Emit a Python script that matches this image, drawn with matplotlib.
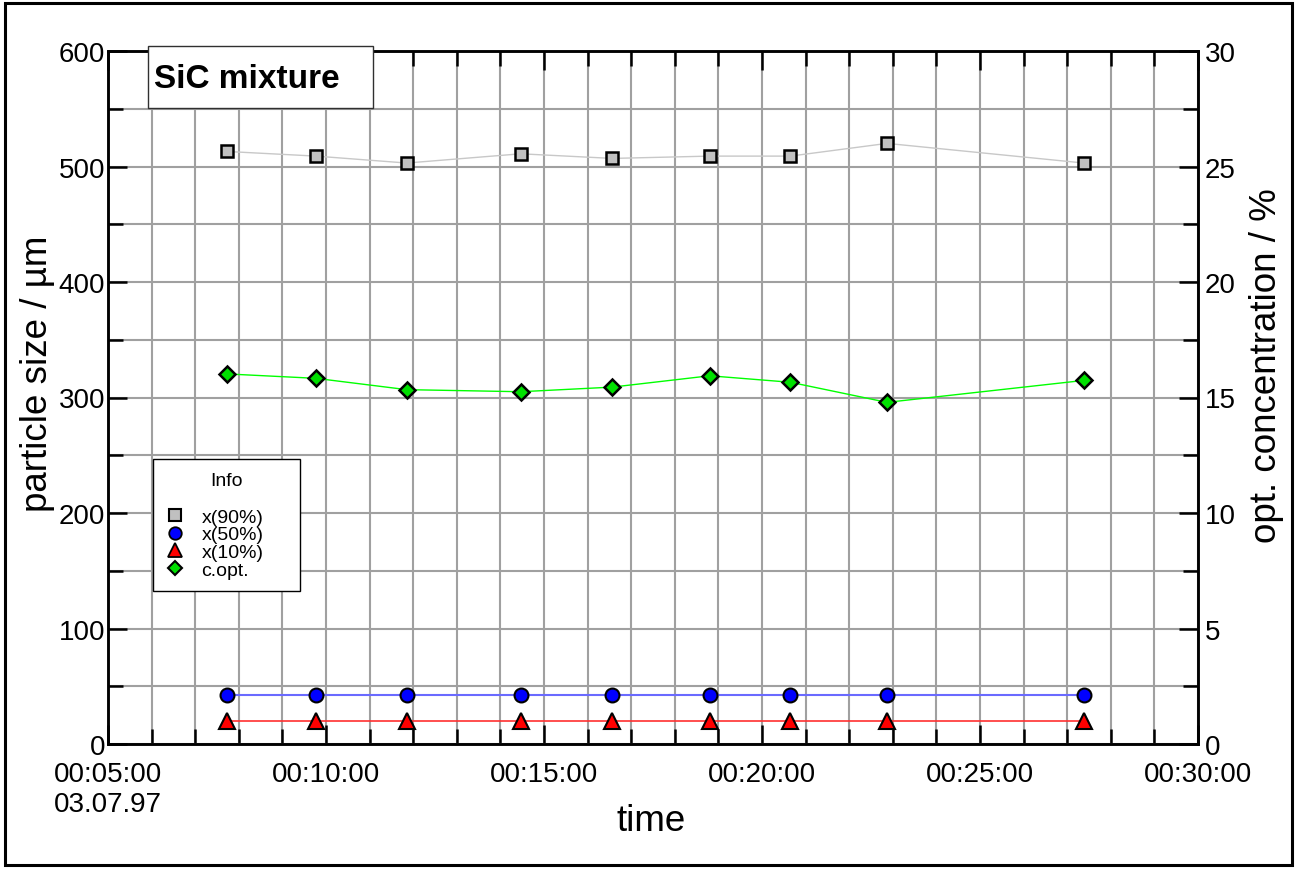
import matplotlib.pyplot as plt
from matplotlib.ticker import MultipleLocator, FixedLocator
from matplotlib.patches import Rectangle
from matplotlib.lines import Line2D

plt.rcParams['font.family'] = ['Liberation Sans', 'DejaVu Sans']

W, H = 1297, 870

# measurement times (hh:mm:ss) and results
times = ['00:07:44', '00:09:46', '00:11:51', '00:14:28', '00:16:34',
         '00:18:48', '00:20:39', '00:22:52', '00:27:23']
x90 = [513, 509, 503, 511, 507, 509, 509, 520, 503]
x50 = [42, 42, 42, 42, 42, 42, 42, 42, 42]
x10 = [20, 20, 20, 20, 20, 20, 20, 20, 20]
copt = [16.02, 15.83, 15.34, 15.25, 15.45, 15.94, 15.66, 14.79, 15.74]

xtick_pos = [5, 10, 15, 20, 25, 30]
xtick_labels = ['00:05:00\n03.07.97', '00:10:00', '00:15:00', '00:20:00',
                '00:25:00', '00:30:00']


def to_min(s):
    h, m, sec = s.split(':')
    return int(h) * 60 + int(m) + int(sec) / 60.0


t = [to_min(s) for s in times]

fig = plt.figure(figsize=(W / 100, H / 100), dpi=100)
ax = fig.add_axes([108 / W, 1 - 745 / H, 1090 / W, 693 / H])
ax2 = ax.twinx()

ax.set_xlim(5, 30)
ax.set_ylim(0, 600)
ax2.set_ylim(0, 30)

ax.xaxis.set_major_locator(FixedLocator(xtick_pos))
ax.set_xticklabels(xtick_labels)
ax.xaxis.set_minor_locator(MultipleLocator(1))
ax.yaxis.set_major_locator(MultipleLocator(100))
ax.yaxis.set_minor_locator(MultipleLocator(50))
ax2.yaxis.set_major_locator(MultipleLocator(5))
ax2.yaxis.set_minor_locator(MultipleLocator(2.5))

ax.set_axisbelow(True)
ax.grid(which='both', color='#a0a0a0', lw=1.5)

ax.tick_params(which='both', direction='in', top=True, right=False,
               width=1.8, labelsize=20, pad=2)
ax.tick_params(axis='x', pad=12)
ax.tick_params(which='major', length=14)
ax.tick_params(which='minor', length=11)
ax2.tick_params(which='both', direction='in', width=1.8, labelsize=20, pad=5)
ax2.tick_params(which='major', length=14)
ax2.tick_params(which='minor', length=11)
for a in (ax, ax2):
    for sp in a.spines.values():
        sp.set_linewidth(1.8)

ax.plot(t, x90, color='#c8c8c8', lw=1, marker='s', ms=9, mfc='#c0c0c0',
        mec='black', mew=1.8, zorder=3)
ax.plot(t, x50, color='#6a6aff', lw=1.5, marker='o', ms=10, mfc='#0000ff',
        mec='black', mew=1.5, zorder=3)
ax.plot(t, x10, color='#ff3030', lw=1.2, marker='^', ms=11, mfc='#ff0000',
        mec='black', mew=1.5, zorder=3)
ax2.plot(t, copt, color='#00ff00', lw=1, marker='D', ms=8.5, mfc='#00e000',
         mec='black', mew=1.8, zorder=3)

fig.text(38 / W, 1 - 374 / H, 'particle size / µm', rotation=90,
         ha='center', va='center', fontsize=26.5)
fig.text(1266 / W, 1 - 366 / H, 'opt. concentration / %', rotation=90,
         ha='center', va='center', fontsize=26.5)
fig.text(651 / W, 1 - 822 / H, 'time', ha='center', va='center', fontsize=26.5)

# title box
ax2.add_patch(Rectangle((148 / W, 1 - 109 / H), 225 / W, 62 / H,
                        transform=fig.transFigure, facecolor='white',
                        edgecolor='#303030', lw=1, clip_on=False, zorder=10))
ax2.text(154 / W, 1 - 80 / H, 'SiC mixture', transform=fig.transFigure,
         fontsize=24, fontweight='bold', va='center', ha='left', zorder=11)

# legend
handles = [
    Line2D([], [], ls='none', marker='s', ms=8.5, mfc='#c0c0c0', mec='black', mew=1.5),
    Line2D([], [], ls='none', marker='o', ms=9, mfc='#0000ff', mec='black', mew=1.3),
    Line2D([], [], ls='none', marker='^', ms=10, mfc='#ff0000', mec='black', mew=1.3),
    Line2D([], [], ls='none', marker='D', ms=7.5, mfc='#00e000', mec='black', mew=1.5),
]
leg = ax2.legend(handles, ['x(90%)', 'x(50%)', 'x(10%)', 'c.opt.'],
                 title='Info\n', loc='upper left',
                 bbox_to_anchor=(153 / W, 1 - 586 / H, 147 / W, 126 / H),
                 bbox_transform=fig.transFigure, mode='expand', fontsize=14,
                 title_fontsize=14, labelspacing=0, handlelength=1,
                 handletextpad=0.85, borderpad=0.65, fancybox=False,
                 framealpha=1, edgecolor='black', borderaxespad=0)
leg.get_frame().set_linewidth(1)
leg.set_zorder(12)

# outer frame
fig.patches.append(Rectangle((5 / W, 4 / H), 1287 / W, 862 / H,
                             transform=fig.transFigure, fill=False,
                             edgecolor='black', lw=2.2))

fig.savefig('out.png', dpi=100)
